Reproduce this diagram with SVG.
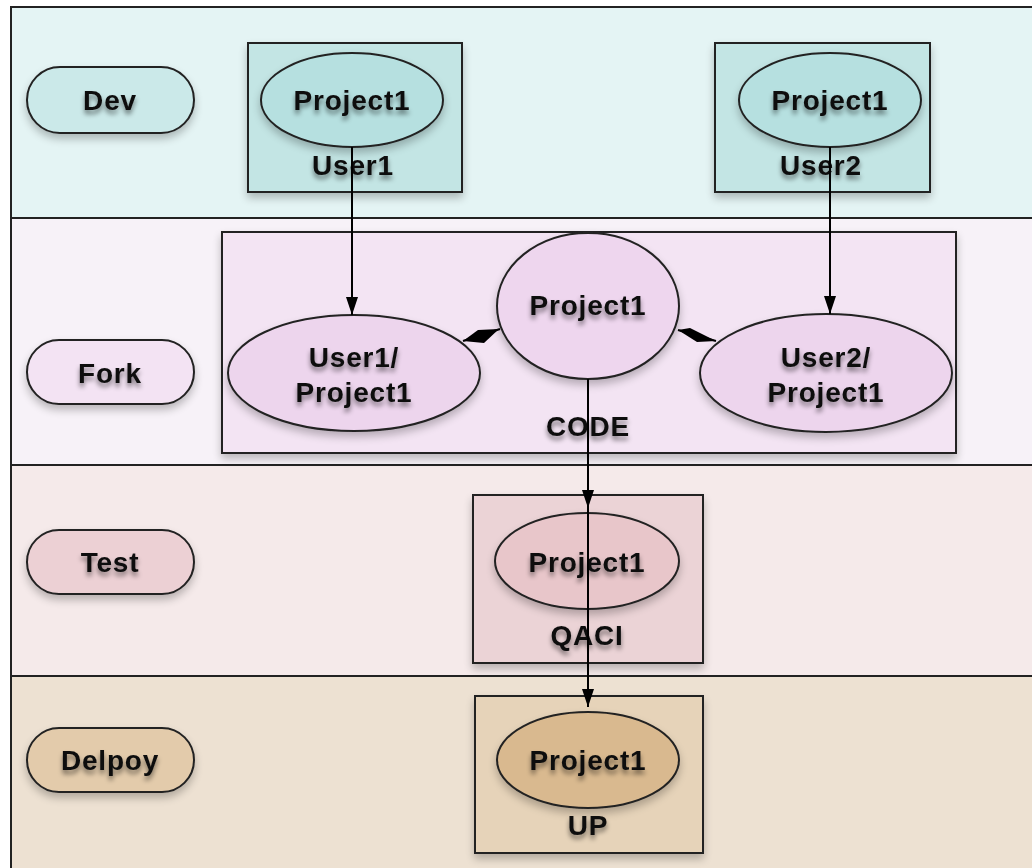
<svg xmlns="http://www.w3.org/2000/svg" width="1032" height="868" viewBox="0 0 1032 868">
<defs>
<filter id="sh" x="-20%" y="-20%" width="140%" height="150%">
<feGaussianBlur in="SourceAlpha" stdDeviation="4"/>
<feOffset dx="0" dy="5" result="b"/>
<feComponentTransfer><feFuncA type="linear" slope="0.25"/></feComponentTransfer>
<feMerge><feMergeNode/><feMergeNode in="SourceGraphic"/></feMerge>
</filter>
<filter id="tsh" x="-20%" y="-40%" width="140%" height="200%">
<feGaussianBlur in="SourceAlpha" stdDeviation="2.5"/>
<feOffset dx="0" dy="4" result="b"/>
<feComponentTransfer><feFuncA type="linear" slope="0.5"/></feComponentTransfer>
<feMerge><feMergeNode/><feMergeNode in="SourceGraphic"/></feMerge>
</filter>
<marker id="arr" viewBox="0 0 18 12" markerWidth="18" markerHeight="12" refX="18" refY="6" orient="auto" markerUnits="userSpaceOnUse">
<path d="M0,0 L18,6 L0,12 Z" fill="#000"/>
</marker>
</defs>
<style>
text{font-family:"Liberation Sans",Arial,sans-serif;font-weight:bold;font-size:28px;fill:#111;text-anchor:middle;letter-spacing:0.8px;filter:url(#tsh)}
.lane{stroke:#222;stroke-width:2}
.shape{stroke:#222;stroke-width:2;filter:url(#sh)}
.conn{stroke:#000;stroke-width:2;fill:none}
</style>
<rect x="0" y="0" width="1032" height="868" fill="#ffffff"/>
<g id="lanes">
<rect class="lane" x="11" y="7" width="1030" height="211" fill="#e4f4f4"/>
<rect class="lane" x="11" y="218" width="1030" height="247" fill="#f7f2f8"/>
<rect class="lane" x="11" y="465" width="1030" height="211" fill="#f5eaea"/>
<rect class="lane" x="11" y="676" width="1030" height="200" fill="#ede1d2"/>
</g>
<g id="lane-dev">
<rect class="shape" x="27" y="67" width="167" height="66" rx="33" fill="#cbe9e9"/>
<text x="110" y="110">Dev</text>
</g>
<g id="lane-fork">
<rect class="shape" x="27" y="340" width="167" height="64" rx="32" fill="#f3e3f3"/>
<text x="110" y="383">Fork</text>
</g>
<g id="lane-test">
<rect class="shape" x="27" y="530" width="167" height="64" rx="32" fill="#ecd0d4"/>
<text x="110" y="572">Test</text>
</g>
<g id="lane-deploy">
<rect class="shape" x="27" y="728" width="167" height="64" rx="32" fill="#e3cbab"/>
<text x="110" y="770">Delpoy</text>
</g>
<g id="user1">
<rect class="shape" x="248" y="43" width="214" height="149" fill="#c3e5e4"/>
<ellipse class="shape" cx="352" cy="100" rx="91" ry="47" fill="#b6e0e0"/>
<text x="352" y="110">Project1</text>
<text x="353" y="175">User1</text>
</g>
<g id="user2">
<rect class="shape" x="715" y="43" width="215" height="149" fill="#c3e5e4"/>
<ellipse class="shape" cx="830" cy="100" rx="91" ry="47" fill="#b6e0e0"/>
<text x="830" y="110">Project1</text>
<text x="821" y="175">User2</text>
</g>
<g id="code">
<rect class="shape" x="222" y="232" width="734" height="221" fill="#f3e4f3"/>
<text x="588" y="436">CODE</text>
</g>
<g id="code-project1">
<ellipse class="shape" cx="588" cy="306" rx="91" ry="73" fill="#eed6ee"/>
<text x="588" y="315">Project1</text>
</g>
<g id="user1-project1">
<ellipse class="shape" cx="354" cy="373" rx="126" ry="58" fill="#edd5ed"/>
<text x="354" y="367">User1/</text>
<text x="354" y="402">Project1</text>
</g>
<g id="user2-project1">
<ellipse class="shape" cx="826" cy="373" rx="126" ry="59" fill="#edd5ed"/>
<text x="826" y="367">User2/</text>
<text x="826" y="402">Project1</text>
</g>
<g id="qaci">
<rect class="shape" x="473" y="495" width="230" height="168" fill="#ebd3d6"/>
<ellipse class="shape" cx="587" cy="561" rx="92" ry="48" fill="#e8c6ca"/>
<text x="587" y="572">Project1</text>
<text x="587" y="645">QACI</text>
</g>
<g id="up">
<rect class="shape" x="475" y="696" width="228" height="157" fill="#e6d3b9"/>
<ellipse class="shape" cx="588" cy="760" rx="91" ry="48" fill="#d9b98f"/>
<text x="588" y="770">Project1</text>
<text x="588" y="835">UP</text>
</g>
<g id="connectors">
<line class="conn" x1="352" y1="147" x2="352" y2="315" marker-end="url(#arr)"/>
<line class="conn" x1="830" y1="147" x2="830" y2="314" marker-end="url(#arr)"/>
<line class="conn" x1="588" y1="379" x2="588" y2="508" marker-end="url(#arr)"/>
<line class="conn" x1="588" y1="508" x2="588" y2="707" marker-end="url(#arr)"/>
<line class="conn" x1="463" y1="341" x2="500" y2="329"/>
<polygon points="463,341 478,330 499,329 484,343" fill="#000"/>
<line class="conn" x1="678" y1="330" x2="716" y2="341"/>
<polygon points="678,330 690,328 716,341 697,342" fill="#000"/>
</g>
</svg>
